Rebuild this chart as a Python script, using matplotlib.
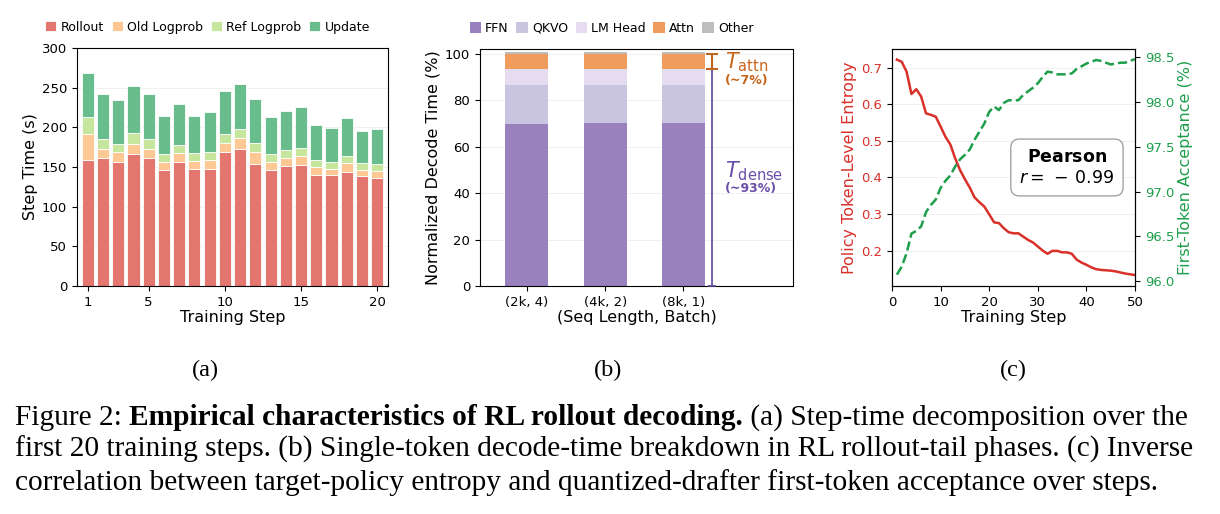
import numpy as np
import matplotlib.pyplot as plt
from matplotlib.ticker import FormatStrFormatter

# (a) step-time decomposition
steps = np.arange(1, 21)
rollout = [158.6, 161, 156.5, 167, 161, 146.4, 156, 147.7, 147.7, 169.5,
           173.3, 154.4, 146.8, 151, 153.1, 140.5, 139.3, 144.3, 138.4, 136.3]
old_top = [191.4, 173.3, 168.3, 179.6, 173.3, 156.5, 167.4, 157.8, 159, 180.5,
           186, 169.1, 156.9, 161.5, 163.7, 149.8, 147.7, 154.8, 146.8, 145.1]
ref_top = [212.9, 185.5, 179.6, 192.3, 185.5, 166.6, 178, 167.9, 169.1, 191.8,
           198.2, 180.5, 166.6, 171.6, 174.2, 158.6, 156.1, 164.1, 154.8, 154.4]
total = [268.8, 241.9, 233.9, 252, 242.3, 214.1, 229.3, 214.6, 218.8, 245.3,
         254.1, 235.6, 213.3, 220, 225.1, 203.2, 198.6, 211.6, 195.6, 197.7]
old_logprob = np.array(old_top) - np.array(rollout)
ref_logprob = np.array(ref_top) - np.array(old_top)
update = np.array(total) - np.array(ref_top)

# (b) decode-time breakdown
configs = ['(2k, 4)', '(4k, 2)', '(8k, 1)']
ffn = [69.8, 70.1, 70.1]
qkvo = [16.7, 16.4, 16.4]
lm_head = [6.8, 6.8, 6.8]
attn = [6.7, 6.7, 6.7]
other = [0.9, 0.9, 0.9]

# (c) entropy vs acceptance
c_steps = np.arange(1, 51)
entropy = [0.722, 0.716, 0.689, 0.628, 0.641, 0.621, 0.575, 0.571, 0.566, 0.539,
           0.511, 0.490, 0.452, 0.420, 0.395, 0.372, 0.345, 0.332, 0.320, 0.299,
           0.277, 0.275, 0.261, 0.250, 0.247, 0.247, 0.238, 0.229, 0.222, 0.211,
           0.200, 0.191, 0.199, 0.199, 0.195, 0.195, 0.191, 0.175, 0.167, 0.161,
           0.154, 0.149, 0.147, 0.146, 0.145, 0.143, 0.140, 0.137, 0.135, 0.133]
acceptance = [96.07, 96.16, 96.31, 96.53, 96.56, 96.61, 96.77, 96.85, 96.91, 97.04,
              97.12, 97.18, 97.28, 97.36, 97.41, 97.47, 97.58, 97.67, 97.76, 97.89,
              97.95, 97.91, 97.99, 98.02, 98.02, 98.02, 98.08, 98.12, 98.16, 98.21,
              98.28, 98.34, 98.33, 98.31, 98.31, 98.31, 98.32, 98.37, 98.40, 98.43,
              98.45, 98.47, 98.46, 98.44, 98.42, 98.43, 98.44, 98.44, 98.46, 98.48]

fig = plt.figure(figsize=(12.2, 5.14), dpi=100)
W, H = 1220, 514

def add_ax(l, r, t, b):
    return fig.add_axes([l / W, 1 - b / H, (r - l) / W, (b - t) / H])

leg_kw = dict(loc='center', ncol=5, frameon=False, fontsize=9, handlelength=0.9,
              handleheight=0.9, handletextpad=0.35, columnspacing=0.6,
              borderaxespad=0)

# ---------- (a)
ax1 = add_ax(77, 388, 48, 286)
cols_a = ['#e47670', '#fdc894', '#c7e69d', '#69bd8c']
bottom = np.zeros(20)
for vals, col, lab in zip([rollout, old_logprob, ref_logprob, update], cols_a,
                          ['Rollout', 'Old Logprob', 'Ref Logprob', 'Update']):
    ax1.bar(steps, vals, 0.8, bottom=bottom, color=col, edgecolor='white',
            linewidth=0.6, label=lab, zorder=2)
    bottom = bottom + np.array(vals)
ax1.set_xlim(0.3, 20.7)
ax1.set_ylim(0, 300)
ax1.set_xticks([1, 5, 10, 15, 20])
ax1.set_yticks(range(0, 301, 50))
ax1.set_xlabel('Training Step', fontsize=11.5, labelpad=1)
ax1.set_ylabel('Step Time (s)', fontsize=11.5, labelpad=3)
ax1.grid(axis='y', color='#eeeeee', linewidth=0.6, zorder=0)
ax1.tick_params(labelsize=9.5)
ax1.legend(bbox_to_anchor=(0.42, 1.088), **leg_kw)

# ---------- (b)
ax2 = add_ax(480, 793, 49, 286)
cols_b = ['#9881bd', '#c9c4df', '#e5dcef', '#f09c5c', '#bdbdbd']
x = np.arange(3)
bottom = np.zeros(3)
for vals, col, lab in zip([ffn, qkvo, lm_head, attn, other], cols_b,
                          ['FFN', 'QKVO', 'LM Head', 'Attn', 'Other']):
    ax2.bar(x, vals, 0.55, bottom=bottom, color=col, label=lab, zorder=2)
    bottom = bottom + np.array(vals)
ax2.set_xlim(-0.6, 3.4)
ax2.set_ylim(0, 102)
ax2.set_xticks(x)
ax2.set_xticklabels(configs)
ax2.set_yticks(range(0, 101, 20))
ax2.set_xlabel('(Seq Length, Batch)', fontsize=11.5, labelpad=1)
ax2.set_ylabel('Normalized Decode Time (%)', fontsize=11.5, labelpad=3)
ax2.grid(axis='y', color='#eeeeee', linewidth=0.6, zorder=0)
ax2.tick_params(labelsize=9.5)
ax2.legend(bbox_to_anchor=(0.42, 1.088), **leg_kw)

dense_top = ffn[2] + qkvo[2] + lm_head[2]
ann_x = 2.37
ax2.errorbar(ann_x, dense_top / 2, yerr=dense_top / 2, color='#5b45a0',
             linewidth=1.2, capsize=3, capthick=1.2, zorder=3)
ax2.errorbar(ann_x, (dense_top + 100) / 2, yerr=(100 - dense_top) / 2,
             color='#c0651a', linewidth=1.5, capsize=4, capthick=1.5, zorder=4)
ax2.text(2.53, 96.5, r'$T_{\mathrm{attn}}$', color='#c8651b', fontsize=15,
         va='center', ha='left')
ax2.text(2.53, 88.5, '(~7%)', color='#c8651b', fontsize=9, weight='bold',
         va='center', ha='left')
ax2.text(2.53, 49.5, r'$T_{\mathrm{dense}}$', color='#6a4fa8', fontsize=15,
         va='center', ha='left')
ax2.text(2.53, 42, '(~93%)', color='#6a4fa8', fontsize=9, weight='bold',
         va='center', ha='left')

# ---------- (c)
red, green = '#d9302a', '#1f9e4c'
ax3 = add_ax(892, 1135, 49, 286)
ax3.plot(c_steps, entropy, color=red, linewidth=1.8)
ax3.set_xlim(0, 50)
ax3.set_ylim(0.103, 0.751)
ax3.set_xticks(range(0, 51, 10))
ax3.set_yticks([0.2, 0.3, 0.4, 0.5, 0.6, 0.7])
ax3.set_xlabel('Training Step', fontsize=11.5, labelpad=1)
ax3.set_ylabel('Policy Token-Level Entropy', fontsize=11.5, color=red, labelpad=3)
ax3.tick_params(axis='y', labelcolor=red, labelsize=9.5)
ax3.tick_params(axis='x', labelsize=9.5)
ax3.grid(axis='y', color='#eeeeee', linewidth=0.6)
ax3b = ax3.twinx()
ax3b.plot(c_steps, acceptance, color=green, linewidth=1.8, linestyle='--')
ax3b.set_ylim(95.944, 98.593)
ax3b.set_yticks([96.0, 96.5, 97.0, 97.5, 98.0, 98.5])
ax3b.yaxis.set_major_formatter(FormatStrFormatter('%.1f'))
ax3b.set_ylabel('First-Token Acceptance (%)', fontsize=11.5, color=green, labelpad=3)
ax3b.tick_params(axis='y', labelcolor=green, labelsize=9.5)
ax3.text(0.72, 0.50, '$\\mathbf{Pearson}$\n$r=\\,-\\,0.99$', transform=ax3.transAxes,
         ha='center', va='center', multialignment='center', fontsize=12.5,
         linespacing=1.25,
         bbox=dict(boxstyle='round,pad=0.5,rounding_size=0.5', fc='white',
                   ec='#999999', lw=0.9))

# ---------- panel labels and caption
serif = 'Liberation Serif'
for xp, lab in [(205, '(a)'), (608, '(b)'), (1013, '(c)')]:
    fig.text(xp / W, 1 - 370 / H, lab, family=serif, fontsize=17.5,
             ha='center', va='center')

cap_size = 21.2
renderer = fig.canvas.get_renderer()
pieces = [('Figure 2: ', 'normal'),
          ('Empirical characteristics of RL rollout decoding.', 'bold'),
          (' (a) Step-time decomposition over the', 'normal')]
xpos = 15
for s, w in pieces:
    t = fig.text(xpos / W, 1 - 425 / H, s, family=serif, fontsize=cap_size,
                 weight=w, ha='left', va='baseline')
    xpos += t.get_window_extent(renderer).width
fig.text(15 / W, 1 - 457 / H,
         'first 20 training steps. (b) Single-token decode-time breakdown in '
         'RL rollout-tail phases. (c) Inverse',
         family=serif, fontsize=cap_size, ha='left', va='baseline')
fig.text(15 / W, 1 - 490 / H,
         'correlation between target-policy entropy and quantized-drafter '
         'first-token acceptance over steps.',
         family=serif, fontsize=cap_size, ha='left', va='baseline')

fig.savefig('out.png', dpi=100)
